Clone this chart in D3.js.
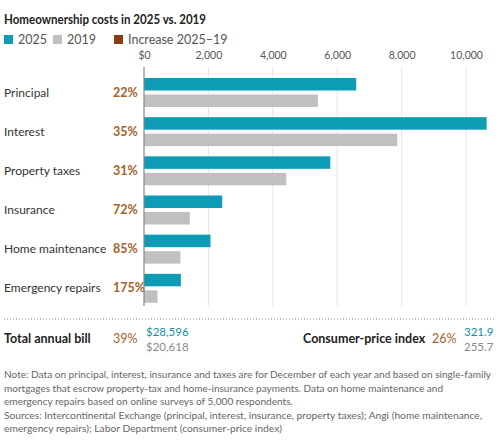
<!DOCTYPE html>
<html><head><meta charset="utf-8">
<script src="https://cdn.jsdelivr.net/npm/d3@7"></script>
<style>
body{margin:0;background:#fff;}
svg{font-family:Lato,sans-serif;}
</style></head>
<body><svg id="c" width="500" height="445"></svg>
<script>
const categories = ["Principal","Interest","Property taxes","Insurance","Home maintenance","Emergency repairs"];
const values2025 = [6590, 10640, 5785, 2430, 2065, 1145];
const values2019 = [5400, 7865, 4418, 1420, 1132, 419];
const increases = ["22%","35%","31%","72%","85%","175%"];
const ticks = [0,2000,4000,6000,8000,10000];
const totalLabels = ["Total annual bill","Consumer-price index"];
const totalIncrease = ["39%","26%"];
const total2025 = ["$28,596","321.9"];
const total2019 = ["$20,618","255.7"];
const legendItems = ["2025","2019","Increase 2025–19"];
const noteLines = [
 "Note: Data on principal, interest, insurance and taxes are for December of each year and based on single-family",
 "mortgages that escrow property-tax and home-insurance payments. Data on home maintenance and",
 "emergency repairs based on online surveys of 5,000 respondents.",
 "Sources: Intercontinental Exchange (principal, interest, insurance, property taxes); Angi (home maintenance,",
 "emergency repairs); Labor Department (consumer-price index)"
];
const noteWidths = [487, 439, 289, 478, 278];

const C25="#0e9cb5", C19="#c0c0c0", CINC="#8a3d12", CPCT="#a4622a";
const svg=d3.select("#c");

svg.append("text").attr("x",4).attr("y",24).attr("font-size",12.5).attr("font-weight",700)
  .attr("fill","#222").attr("textLength",202).attr("lengthAdjust","spacingAndGlyphs")
  .text("Homeownership costs in 2025 vs. 2019");

const legCol=[C25,C19,CINC], legX=[4,53,114];
legendItems.forEach((t,i)=>{
  svg.append("rect").attr("x",legX[i]).attr("y",35).attr("width",9).attr("height",9).attr("fill",legCol[i]);
  svg.append("text").attr("x",legX[i]+14).attr("y",44).attr("font-size",12.5).attr("fill","#555").text(t);
});

const x=d3.scaleLinear().domain([0,10000]).range([144,466]);
const y=d3.scaleBand().domain(categories).range([73,308]).paddingInner(0).paddingOuter(0);
const barH=12.5, gap=4;

const axis=svg.append("g").attr("transform","translate(0,62)")
  .call(d3.axisTop(x).tickValues(ticks).tickSize(0).tickFormat(d=>d===0?"$0":d3.format(",")(d)));
axis.select(".domain").remove();
axis.selectAll("text").attr("font-size",10.5).attr("fill","#555").attr("font-family","Lato");

svg.append("g").selectAll("line").data(ticks.slice(1)).join("line")
  .attr("x1",d=>x(d)).attr("x2",d=>x(d)).attr("y1",67).attr("y2",306)
  .attr("stroke","#e6e6e6").attr("stroke-width",1);

const g=svg.append("g");
categories.forEach((c,i)=>{
  const y0=y(c)+5;
  g.append("rect").attr("x",x(0)).attr("y",y0).attr("width",x(values2025[i])-x(0)).attr("height",barH).attr("fill",C25);
  g.append("rect").attr("x",x(0)).attr("y",y0+barH+gap).attr("width",x(values2019[i])-x(0)).attr("height",barH).attr("fill",C19);
  g.append("text").attr("x",4).attr("y",y0+barH+6).attr("font-size",12).attr("fill","#333").text(c);
  g.append("text").attr("x",113).attr("y",y0+barH+6).attr("font-size",12.5)
    .attr("font-weight",700).attr("fill",CPCT).text(increases[i]);
});
svg.append("line").attr("x1",x(0)).attr("x2",x(0)).attr("y1",67).attr("y2",306).attr("stroke","#888").attr("stroke-width",1.2);

svg.append("line").attr("x1",4).attr("x2",496).attr("y1",319).attr("y2",319)
  .attr("stroke","#888").attr("stroke-dasharray","1,2").attr("stroke-width",1);

const totX=[{l:4,p:113,v:146},{l:303,p:432,v:464}];
totalLabels.forEach((t,i)=>{
  svg.append("text").attr("x",totX[i].l).attr("y",343).attr("font-size",12.5).attr("font-weight",700).attr("fill","#222").text(t);
  svg.append("text").attr("x",totX[i].p).attr("y",343).attr("font-size",12.5).attr("fill",CPCT).text(totalIncrease[i]);
  svg.append("text").attr("x",totX[i].v).attr("y",336).attr("font-size",11.5).attr("fill","#128fa6").text(total2025[i]);
  svg.append("text").attr("x",totX[i].v).attr("y",351).attr("font-size",11.5).attr("fill","#8a8a8a").text(total2019[i]);
});

svg.append("g").selectAll("text").data(noteLines).join("text")
  .attr("x",4).attr("y",(d,i)=>378+i*13.5).attr("font-size",10).attr("fill","#666")
  .attr("textLength",(d,i)=>noteWidths[i]).attr("lengthAdjust","spacingAndGlyphs").text(d=>d);
</script></body></html>
